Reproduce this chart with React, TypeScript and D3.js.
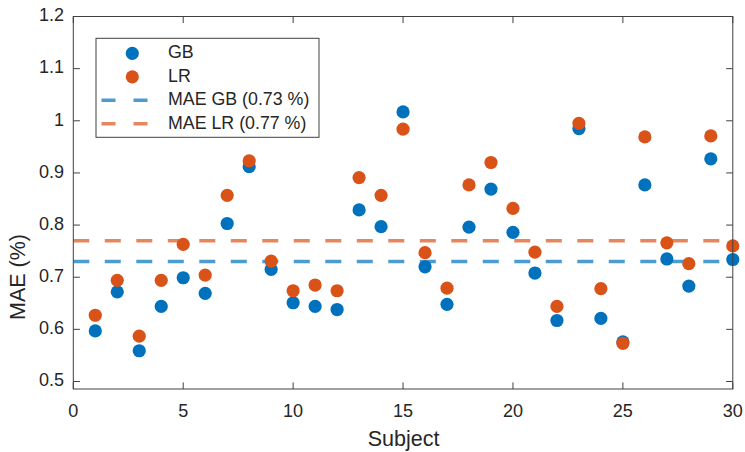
import React from "react";
import * as d3 from "d3";

const subjects = d3.range(1, 31);
const gbValues = [0.597, 0.672, 0.559, 0.644, 0.699, 0.669, 0.803, 0.912, 0.715, 0.651,
  0.644, 0.638, 0.829, 0.797, 1.017, 0.720, 0.648, 0.796, 0.869, 0.786,
  0.708, 0.617, 0.985, 0.621, 0.576, 0.877, 0.735, 0.683, 0.927, 0.734];
const lrValues = [0.627, 0.694, 0.587, 0.694, 0.763, 0.704, 0.857, 0.923, 0.731, 0.674,
  0.685, 0.674, 0.891, 0.857, 0.984, 0.747, 0.679, 0.877, 0.920, 0.832,
  0.748, 0.644, 0.995, 0.678, 0.573, 0.969, 0.766, 0.726, 0.971, 0.760];
const meanGB = 0.73;
const meanLR = 0.77;
const xTicks = [0, 5, 10, 15, 20, 25, 30];
const yTicks = [0.5, 0.6, 0.7, 0.8, 0.9, 1.0, 1.1, 1.2];
const legendLabels = ["GB", "LR", "MAE GB (0.73 %)", "MAE LR (0.77 %)"];

const BLUE = "#0072BD";
const ORANGE = "#D95319";
const AXIS = "#404040";
const TEXT = "#262626";
const FONT = "'Liberation Sans', Arial, Helvetica, sans-serif";

export default function App() {
  const W = 745, H = 452;
  const L = 73.3, R = 732.8, T = 16.5, B = 389;
  const x = d3.scaleLinear().domain([0, 30]).range([L, R]);
  const y = d3.scaleLinear().domain([0.4856, 1.2]).range([B, T]);
  const tick = 6.6;
  const fmtY = (v: number) => (v === 1 ? "1" : d3.format(".1f")(v));

  const legendX = 96, legendY = 38.3, legendW = 223, legendH = 99;
  const rowY = [53.3, 76.8, 100.3, 123.8];

  return (
    <svg width={W} height={H} style={{ position: "absolute", left: 0, top: 0, background: "#fff" }}
      fontFamily={FONT}>
      <rect x={0} y={0} width={W} height={H} fill="#fff" />
      {/* mean lines */}
      <line x1={x(0)} x2={x(30)} y1={y(meanGB)} y2={y(meanGB)} stroke={BLUE} strokeOpacity={0.7}
        strokeWidth={3.6} strokeDasharray="16 15.5" />
      <line x1={x(0)} x2={x(30)} y1={y(meanLR)} y2={y(meanLR)} stroke={ORANGE} strokeOpacity={0.7}
        strokeWidth={3.6} strokeDasharray="16 15.5" />
      {/* points */}
      {subjects.map((s, i) => (
        <circle key={"gb" + s} cx={x(s)} cy={y(gbValues[i])} r={6.6} fill={BLUE} />
      ))}
      {subjects.map((s, i) => (
        <circle key={"lr" + s} cx={x(s)} cy={y(lrValues[i])} r={6.6} fill={ORANGE} />
      ))}
      {/* axes box */}
      <rect x={L} y={T} width={R - L} height={B - T} fill="none" stroke={AXIS} strokeWidth={1} />
      {xTicks.map((t) => (
        <g key={"xt" + t}>
          <line x1={x(t)} x2={x(t)} y1={B} y2={B - tick} stroke={AXIS} />
          <line x1={x(t)} x2={x(t)} y1={T} y2={T + tick} stroke={AXIS} />
          <text x={x(t)} y={412} textAnchor="middle" dominantBaseline="middle" fontSize={18} fill={TEXT}>{t}</text>
        </g>
      ))}
      {yTicks.map((t) => (
        <g key={"yt" + t}>
          <line x1={L} x2={L + tick} y1={y(t)} y2={y(t)} stroke={AXIS} />
          <line x1={R} x2={R - tick} y1={y(t)} y2={y(t)} stroke={AXIS} />
          <text x={64} y={y(t)} textAnchor="end" dominantBaseline="middle" fontSize={18} fill={TEXT}>{fmtY(t)}</text>
        </g>
      ))}
      <text x={403.5} y={440} textAnchor="middle" dominantBaseline="middle" fontSize={21.5} fill={TEXT}>Subject</text>
      <text transform={`translate(19,277) rotate(-90)`} textAnchor="middle" dominantBaseline="middle"
        fontSize={21.5} fill={TEXT}>MAE (%)</text>
      {/* legend */}
      <rect x={legendX} y={legendY} width={legendW} height={legendH} fill="#fff" stroke={AXIS} strokeWidth={1} />
      <circle cx={132.3} cy={rowY[0]} r={6.6} fill={BLUE} />
      <circle cx={132.3} cy={rowY[1]} r={6.6} fill={ORANGE} />
      <line x1={101.5} x2={149.5} y1={rowY[2]} y2={rowY[2]} stroke={BLUE} strokeOpacity={0.7} strokeWidth={3.6} strokeDasharray="14 18" />
      <line x1={101.5} x2={149.5} y1={rowY[3]} y2={rowY[3]} stroke={ORANGE} strokeOpacity={0.7} strokeWidth={3.6} strokeDasharray="14 18" />
      {legendLabels.map((lab, i) => (
        <text key={lab} x={168} y={rowY[i]} dominantBaseline="middle" fontSize={17.8} fill={TEXT}>{lab}</text>
      ))}
    </svg>
  );
}
